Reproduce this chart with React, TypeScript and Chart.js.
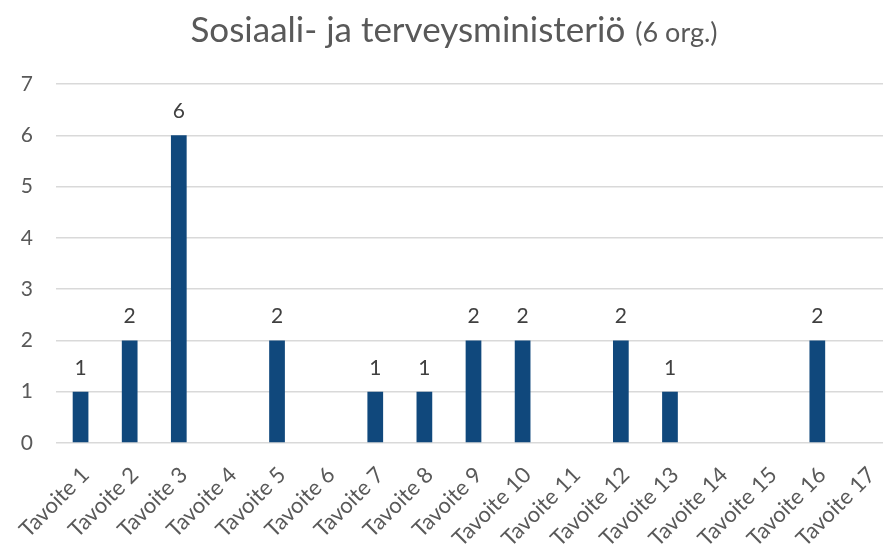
import React, { useEffect, useRef } from "react";
import { Chart, registerables } from "chart.js";

Chart.register(...registerables);

const categories = [
  "Tavoite 1", "Tavoite 2", "Tavoite 3", "Tavoite 4", "Tavoite 5", "Tavoite 6",
  "Tavoite 7", "Tavoite 8", "Tavoite 9", "Tavoite 10", "Tavoite 11", "Tavoite 12",
  "Tavoite 13", "Tavoite 14", "Tavoite 15", "Tavoite 16", "Tavoite 17",
];
const values = [1, 2, 6, 0, 2, 0, 1, 1, 2, 2, 0, 2, 1, 0, 0, 2, 0];
const titleMain = "Sosiaali- ja terveysministeriö";
const titleSub = "(6 org.)";
const yTicks = [0, 1, 2, 3, 4, 5, 6, 7];

const FONT = "Lato, 'Open Sans', sans-serif";

const titlePlugin = {
  id: "customTitle",
  afterDraw(chart: any) {
    const ctx = chart.ctx;
    ctx.save();
    ctx.fillStyle = "#595959";
    ctx.textBaseline = "alphabetic";
    ctx.textAlign = "left";
    ctx.font = `35px ${FONT}`;
    const w1 = ctx.measureText(titleMain).width;
    ctx.font = `27px ${FONT}`;
    const w2 = ctx.measureText(titleSub).width;
    const gap = 10;
    const total = w1 + gap + w2;
    const x0 = 454 - total / 2;
    ctx.font = `35px ${FONT}`;
    ctx.fillText(titleMain, x0, 42);
    ctx.font = `27px ${FONT}`;
    ctx.fillText(titleSub, x0 + w1 + gap, 42);
    ctx.restore();
  },
};

const labelPlugin = {
  id: "valueLabels",
  afterDatasetsDraw(chart: any) {
    const ctx = chart.ctx;
    const meta = chart.getDatasetMeta(0);
    ctx.save();
    ctx.fillStyle = "#404040";
    ctx.font = `21px ${FONT}`;
    ctx.textAlign = "center";
    ctx.textBaseline = "alphabetic";
    meta.data.forEach((bar: any, i: number) => {
      const v = values[i];
      if (!v) return;
      ctx.fillText(String(v), bar.x, bar.y - 17);
    });
    ctx.restore();
  },
};

export default function App() {
  const ref = useRef<HTMLCanvasElement | null>(null);
  useEffect(() => {
    if (!ref.current) return;
    const chart = new Chart(ref.current, {
      type: "bar",
      data: {
        labels: categories,
        datasets: [
          {
            data: values,
            backgroundColor: "#10487C",
            borderWidth: 0,
            categoryPercentage: 1,
            barPercentage: 0.32,
          },
        ],
      },
      options: {
        animation: false,
        responsive: false,
        maintainAspectRatio: false,
        devicePixelRatio: 1,
        layout: { padding: { top: 84, right: 4, left: 0, bottom: 0 } },
        plugins: {
          legend: { display: false },
          title: { display: false },
          tooltip: { enabled: false },
        },
        scales: {
          x: {
            grid: { display: false, drawTicks: false },
            border: { display: false },
            ticks: {
              autoSkip: false,
              maxRotation: 45,
              minRotation: 45,
              padding: 19,
              labelOffset: 5,
              color: "#595959",
              font: { family: FONT, size: 22 },
            },
            afterFit(scale: any) {
              scale.height = 102;
              scale.paddingLeft = 0;
              scale.paddingRight = 0;
            },
          },
          y: {
            min: 0,
            max: 7,
            afterBuildTicks(scale: any) {
              scale.ticks = yTicks.map((v) => ({ value: v }));
            },
            grid: { color: "#D9D9D9", lineWidth: 1.5, drawTicks: false },
            border: { display: false },
            ticks: {
              padding: 23,
              color: "#595959",
              font: { family: FONT, size: 21 },
            },
            afterFit(scale: any) {
              scale.width = 56;
              scale.paddingTop = 0;
              scale.paddingBottom = 0;
            },
          },
        },
      },
      plugins: [titlePlugin, labelPlugin],
    });
    return () => chart.destroy();
  }, []);
  return (
    <div
      style={{
        position: "fixed",
        left: 0,
        top: 0,
        width: 883,
        height: 545,
        overflow: "hidden",
        background: "#fff",
      }}
    >
      <canvas ref={ref} width={895} height={545} style={{ display: "block" }} />
    </div>
  );
}
